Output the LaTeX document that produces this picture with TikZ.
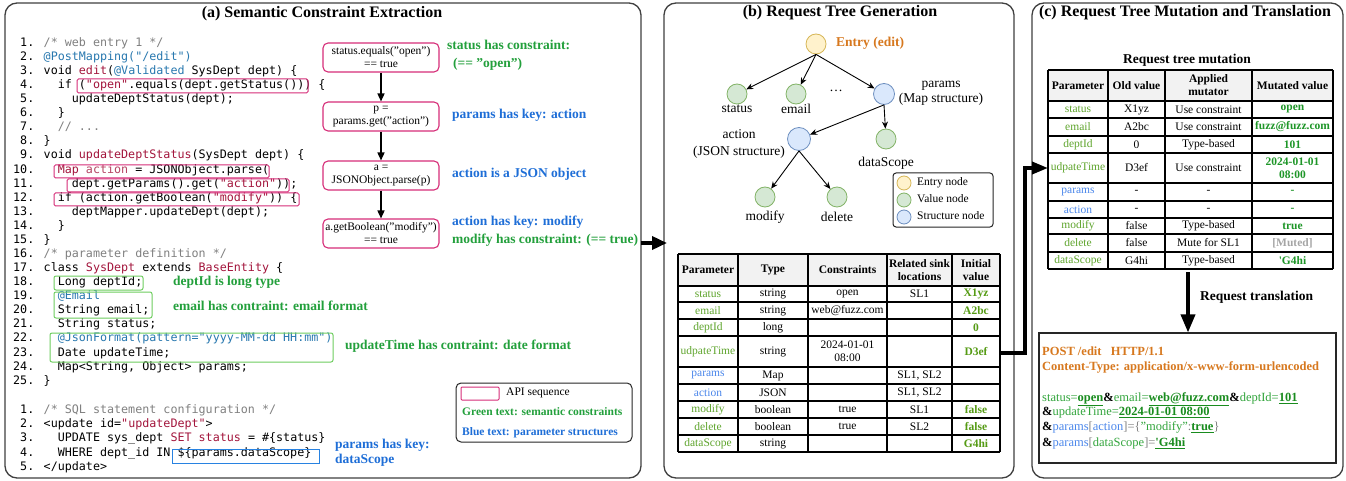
\documentclass[tikz,border=0pt]{standalone}
\usepackage{fontspec}
\setmainfont{Liberation Serif}
\newfontfamily\codefont{DejaVu Sans Mono}
\usetikzlibrary{arrows.meta}
\definecolor{cred}{RGB}{163,21,60}
\definecolor{cblue}{RGB}{40,120,175}
\definecolor{cgray}{RGB}{128,128,128}
\definecolor{apink}{RGB}{214,45,120}
\definecolor{bxgreen}{RGB}{110,205,95}
\definecolor{bxblue}{RGB}{40,130,225}
\definecolor{agreen}{RGB}{35,160,60}
\definecolor{ablue}{RGB}{30,110,215}
\definecolor{pgreen}{RGB}{95,165,45}
\definecolor{pblue}{RGB}{75,135,235}
\definecolor{ivgreen}{RGB}{85,155,20}
\definecolor{mvgreen}{RGB}{30,150,40}
\definecolor{mgray}{RGB}{165,165,165}
\definecolor{eorange}{RGB}{215,120,30}
\definecolor{entryfill}{RGB}{255,242,204}
\definecolor{entrydraw}{RGB}{214,182,86}
\definecolor{valfill}{RGB}{213,232,212}
\definecolor{valdraw}{RGB}{130,179,102}
\definecolor{strfill}{RGB}{218,232,252}
\definecolor{strdraw}{RGB}{108,142,191}
\definecolor{hdrgray}{RGB}{242,242,242}
\definecolor{rgreen}{RGB}{50,165,60}
\definecolor{ugreen}{RGB}{25,140,30}
\newcommand\uv[1]{\textcolor{ugreen}{\bfseries\underline{#1}}}
\newcommand\amp{\textbf{\&}}
\begin{document}
\begin{tikzpicture}[x=1pt,y=-1pt,
  panel/.style={draw=black!75, line width=1.3pt, rounded corners=12pt, inner sep=0pt},
  ptitle/.style={font=\bfseries\fontsize{16}{18}\selectfont, inner sep=0pt},
  code/.style={anchor=mid west, inner sep=0pt, font=\codefont\fontsize{11.7}{14}\selectfont},
  hlbox/.style={draw=apink, line width=1pt, rounded corners=1.5pt},
  gbox/.style={draw=bxgreen, line width=1pt, rounded corners=2pt},
  bbox/.style={draw=bxblue, line width=1pt},
  api/.style={draw=apink, line width=1.1pt, rounded corners=5pt, minimum width=116pt, minimum height=29pt, align=center, inner sep=0pt, font=\fontsize{11.5}{13}\selectfont},
  apiarr/.style={-{Triangle[length=8pt,width=7pt]}, line width=1.5pt},
  ann/.style={anchor=mid west, inner sep=0pt, font=\bfseries\fontsize{13.5}{15}\selectfont},
  bigarr/.style={-{Triangle[length=15pt,width=13pt]}, line width=3.5pt},
  tnode/.style={circle, minimum size=20pt, inner sep=0pt, line width=0.8pt},
  entry/.style={tnode, fill=entryfill, draw=entrydraw},
  val/.style={tnode, fill=valfill, draw=valdraw},
  strn/.style={tnode, fill=strfill, draw=strdraw},
  tlab/.style={inner sep=0pt, font=\fontsize{13.5}{15.5}\selectfont, align=center},
  tarr/.style={-{Stealth[length=7pt,width=6pt]}, line width=0.9pt},
  tline/.style={line width=1.1pt},
  cell/.style={inner sep=0pt, align=center, font=\fontsize{11.5}{13}\selectfont},
  hcell/.style={cell, font=\bfseries\fontsize{11.5}{13}\selectfont},
  leg/.style={anchor=mid west, inner sep=0pt, font=\fontsize{11.5}{13}\selectfont},
  req/.style={anchor=mid west, inner sep=0pt, font=\fontsize{12.5}{14}\selectfont}
]
\useasboundingbox (0,0) rectangle (1346,481);
\fill[white] (0,0) rectangle (1346,481);

% ---------------- panels
\node[panel, minimum width=636pt, minimum height=475pt] (pa) at (323,240.5) {};
\node[panel, minimum width=350pt, minimum height=475pt] (pb) at (839,240.5) {};
\node[panel, minimum width=311pt, minimum height=475pt] (pc) at (1187.5,240.5) {};
\node[ptitle] (ta) at (322,14) {(a) Semantic Constraint Extraction};
\node[ptitle] (tb) at (840,13) {(b) Request Tree Generation};
\node[ptitle] (tc) at (1185,13) {(c) Request Tree Mutation and Translation};

% ---------------- panel (a): code
\node[code] (c1) at (13,44) {\ 1. \textcolor{cgray}{/* web entry 1 */}};
\node[code] (c2) at (13,58.08) {\ 2. \textcolor{cblue}{@PostMapping("/edit")}};
\node[code] (c3) at (13,72.16) {\ 3. void \textcolor{cred}{edit}(\textcolor{cblue}{@Validated} SysDept dept) \{};
\node[code] (c4) at (13,86.24) {\ 4. \ \ if (\textcolor{cred}{"open"}.equals(dept.getStatus())) \{};
\node[code] (c5) at (13,100.32) {\ 5. \ \ \ \ updateDeptStatus(dept);};
\node[code] (c6) at (13,114.4) {\ 6. \ \ \}};
\node[code] (c7) at (13,128.48) {\ 7. \ \ \textcolor{cgray}{// ...}};
\node[code] (c8) at (13,142.56) {\ 8. \}};
\node[code] (c9) at (13,156.64) {\ 9. void \textcolor{cred}{updateDeptStatus}(SysDept dept) \{};
\node[code] (c10) at (13,170.72) {10. \ \ \textcolor{cred}{Map} \textcolor{cred!80}{action} = JSONObject.parse(};
\node[code] (c11) at (13,184.8) {11. \ \ \ \ dept.getParams().get(\textcolor{cred}{"action"}));};
\node[code] (c12) at (13,198.88) {12. \ \ if (action.getBoolean(\textcolor{cred}{"modify"})) \{};
\node[code] (c13) at (13,212.96) {13. \ \ \ \ deptMapper.updateDept(dept);};
\node[code] (c14) at (13,227.04) {14. \ \ \}};
\node[code] (c15) at (13,241.12) {15. \}};
\node[code] (c16) at (13,255.2) {16. \textcolor{cgray}{/* parameter definition */}};
\node[code] (c17) at (13,269.28) {17. class \textcolor{cred}{SysDept} extends \textcolor{cred}{BaseEntity} \{};
\node[code] (c18) at (13,283.36) {18. \ \ Long deptId;};
\node[code] (c19) at (13,297.44) {19. \ \ \textcolor{cblue}{@Email}};
\node[code] (c20) at (13,311.52) {20. \ \ String email;};
\node[code] (c21) at (13,325.6) {21. \ \ String status;};
\node[code] (c22) at (13,339.68) {22. \ \ \textcolor{cblue}{@JsonFormat(pattern="yyyy-MM-dd HH:mm")}};
\node[code] (c23) at (13,353.76) {23. \ \ Date updateTime;};
\node[code] (c24) at (13,367.84) {24. \ \ Map<String, Object> params;};
\node[code] (c25) at (13,381.92) {25. \}};

\node[code] (s1) at (13,411) {\ 1. \textcolor{cgray}{/* SQL statement configuration */}};
\node[code] (s2) at (13,425.25) {\ 2. <update id=\textcolor{cred}{"updateDept"}>};
\node[code] (s3) at (13,439.5) {\ 3. \ \ UPDATE sys\_dept \textcolor{cred}{SET status} = \#\{status\}};
\node[code] (s4) at (13,453.75) {\ 4. \ \ WHERE dept\_id IN \$\{params.dataScope\}};
\node[code] (s5) at (13,468) {\ 5. </update>};

% highlight boxes
\draw[hlbox] (77,79) rectangle (308,93);
\draw[hlbox] (54,165) rectangle (269,178);
\draw[hlbox] (67,179) rectangle (289,192);
\draw[hlbox] (54,193) rectangle (299,206);
\draw[gbox] (54,276) rectangle (143,290);
\draw[gbox] (54,292) rectangle (152,318);
\draw[gbox] (50,333) rectangle (333,362);
\draw[bbox] (172,449) rectangle (319,463);

% annotations next to code
\node[ann, text=agreen] (n18) at (173,283) {deptId is long type};
\node[ann, text=agreen] (n20) at (173,308) {email has contraint: email format};
\node[ann, text=agreen] (n22) at (345,347) {updateTime has contraint: date format};
\node[ann, text=ablue, align=left, anchor=west] (ns4) at (335,453) {params has key:\\dataScope};

% API sequence
\node[api] (a1) at (381,57.5) {status.equals("open")\\== true};
\node[api] (a2) at (381,116.5) {p =\\params.get("action")};
\node[api] (a3) at (381,175.5) {a =\\JSONObject.parse(p)};
\node[api] (a4) at (381,233.5) {a.getBoolean("modify")\\== true};
\draw[apiarr] (a1) -- (a2);
\draw[apiarr] (a2) -- (a3);
\draw[apiarr] (a3) -- (a4);
\node[ann, text=agreen] (k1) at (447,47) {status has constraint:};
\node[ann, text=agreen] (k1b) at (453,65) {(== "open")};
\node[ann, text=ablue] (k2) at (452,116) {params has key: action};
\node[ann, text=ablue] (k3) at (452,175) {action is a JSON object};
\node[ann, text=ablue] (k4) at (452,223) {action has key: modify};
\node[ann, text=agreen] (k4b) at (452,241) {modify has constraint: (== true)};

% legend (a)
\node[draw=black!85, line width=1pt, rounded corners=5pt, minimum width=176pt, minimum height=59pt, inner sep=0pt] (lega) at (544,412.5) {};
\node[draw=apink, line width=1pt, rounded corners=1pt, minimum width=38pt, minimum height=13pt, inner sep=0pt] (lgbox) at (480,393.5) {};
\node[leg] (lg1) at (506,393) {API sequence};
\node[leg, text=agreen, font=\bfseries\fontsize{11.5}{13}\selectfont] (lg2) at (462,413) {Green text: semantic constraints};
\node[leg, text=ablue, font=\bfseries\fontsize{11.5}{13}\selectfont] (lg3) at (462,433) {Blue text: parameter structures};

% arrow a -> b
\coordinate (aout) at (641,243);
\coordinate (bin) at (667,243);
\draw[bigarr] (aout) -- (bin);

% ---------------- panel (b): tree
\node[entry] (en) at (816,44) {};
\node[val] (st) at (737,94) {};
\node[val] (em) at (796,94) {};
\node[strn, minimum size=21pt] (pr) at (884,94) {};
\node[strn, minimum size=23pt] (ac) at (799,139) {};
\node[val] (ds) at (886,139) {};
\node[val] (mo) at (765,197) {};
\node[val] (de) at (837,197) {};
\node[inner sep=0pt, anchor=mid west, text=eorange, font=\bfseries\fontsize{13.5}{15}\selectfont] (enl) at (836,44) {Entry (edit)};
\node[tlab] (stl) at (737,109) {status};
\node[tlab] (eml) at (796,109) {email};
\node[tlab] (dots) at (836,91) {\dots};
\node[tlab] (prl) at (941,93.5) {params\\(Map structure)};
\node[tlab, font=\fontsize{13.5}{17}\selectfont] (acl) at (739,143.5) {action\\(JSON structure)};
\node[tlab] (dsl) at (886,163) {dataScope};
\node[tlab] (mol) at (765,217) {modify};
\node[tlab] (del) at (837,217) {delete};
\draw[tarr] (en.south) -- (st);
\draw[tarr] (en.south) -- (em);
\draw[tarr] (en.south) -- (pr);
\draw[tarr] (pr.south) -- (ac);
\draw[tarr] (pr.south) -- (ds);
\draw[tarr] (ac.south) -- (mo);
\draw[tarr] (ac.south) -- (de);

% legend (b)
\node[draw=black!85, line width=1pt, rounded corners=3pt, minimum width=100pt, minimum height=54pt, inner sep=0pt] (legb) at (943,200) {};
\node[entry, minimum size=14pt] (lgc1) at (904,183) {};
\node[val, minimum size=14pt] (lgc2) at (904,200) {};
\node[strn, minimum size=14pt] (lgc3) at (904,217) {};
\node[leg] (lgt1) at (917,183) {Entry node};
\node[leg] (lgt2) at (917,200) {Value node};
\node[leg] (lgt3) at (917,217) {Structure node};

% table (b)
\fill[hdrgray] (678,254) rectangle (1000,286);
\foreach \x in {678,738,808,887,952,1000} \draw[tline] (\x,254) -- (\x,452);
\foreach \y in {254,286,302,319,336,367,384,401,418,435,452} \draw[tline] (678,\y) -- (1000,\y);
\node[hcell] (bh1) at (708,270) {Parameter};
\node[hcell] (bh2) at (773,270) {Type};
\node[hcell] (bh3) at (847.5,270) {Constraints};
\node[hcell] (bh4) at (919.5,270) {Related sink\\locations};
\node[hcell] (bh5) at (976,270) {Initial\\value};
\foreach \yc/\pc/\p/\t/\c/\s/\v [count=\i] in {
  294/pgreen/status/string/open/SL1/X1yz,
  310.5/pgreen/email/string/web@fuzz.com/{}/A2bc,
  327.5/pgreen/deptId/long/{}/{}/0,
  351.5/pgreen/udpateTime/string/{2024-01-01\\08:00}/{}/D3ef,
  375.5/pblue/params/Map/{}/{SL1, SL2}/{},
  392.5/pblue/action/JSON/{}/{SL1, SL2}/{},
  409.5/pgreen/modify/boolean/true/SL1/false,
  426.5/pgreen/delete/boolean/true/SL2/false,
  443.5/pgreen/dataScope/string/{}/{}/G4hi}{
  \node[cell, text=\pc] (tb-\i-1) at (708,\yc) {\p};
  \node[cell] (tb-\i-2) at (773,\yc) {\t};
  \node[cell] (tb-\i-3) at (847.5,\yc) {\c};
  \node[cell] (tb-\i-4) at (919.5,\yc) {\s};
  \node[cell, text=ivgreen, font=\bfseries\fontsize{11.5}{13}\selectfont] (tb-\i-5) at (976,\yc) {\v};
}

% arrow b -> c
\coordinate (bout) at (1001,353);
\coordinate (cin) at (1048,168);
\draw[bigarr, -{Triangle[length=16pt,width=12pt]}] (bout) -- (1025,353) -- (1025,168) -- (cin);

% ---------------- panel (c)
\node[inner sep=0pt, font=\bfseries\fontsize{13.5}{15}\selectfont] (mt) at (1187,60) {Request tree mutation};
\fill[hdrgray] (1048,70) rectangle (1333,101);
\foreach \x in {1048,1108,1165,1252,1333} \draw[tline] (\x,70) -- (\x,269);
\foreach \y in {70,101,118,136,153,183,201,218,234,252,269} \draw[tline] (1048,\y) -- (1333,\y);
\node[hcell] (ch1) at (1078,85.5) {Parameter};
\node[hcell] (ch2) at (1136.5,85.5) {Old value};
\node[hcell] (ch3) at (1208.5,85.5) {Applied\\mutator};
\node[hcell] (ch4) at (1292.5,85.5) {Mutated value};
\foreach \yc/\pc/\p/\o/\m/\mc/\v [count=\i] in {
  109.5/pgreen/status/X1yz/Use constraint/mvgreen/open,
  127/pgreen/email/A2bc/Use constraint/mvgreen/fuzz@fuzz.com,
  144.5/pgreen/deptId/0/Type-based/mvgreen/101,
  168/pgreen/udpateTime/D3ef/Use constraint/mvgreen/{2024-01-01\\08:00},
  192/pblue/params/-/-/mvgreen/-,
  209.5/pblue/action/-/-/mvgreen/-,
  226/pgreen/modify/false/Type-based/mvgreen/true,
  243/pgreen/delete/false/Mute for SL1/mgray/[Muted],
  260.5/pgreen/dataScope/G4hi/Type-based/mvgreen/\textquotesingle G4hi}{
  \node[cell, text=\pc] (tc-\i-1) at (1078,\yc) {\p};
  \node[cell] (tc-\i-2) at (1136.5,\yc) {\o};
  \node[cell] (tc-\i-3) at (1208.5,\yc) {\m};
  \node[cell, text=\mc, font=\bfseries\fontsize{11.5}{13}\selectfont] (tc-\i-4) at (1292.5,\yc) {\v};
}

% translation arrow
\coordinate (tout) at (1188,272);
\node[draw=black!85, line width=1.1pt, minimum width=297pt, minimum height=130pt, inner sep=0pt] (rq) at (1187.5,398) {};
\draw[bigarr, -{Triangle[length=18pt,width=14pt]}] (tout) -- (rq.north -| tout);
\node[inner sep=0pt, anchor=mid west, font=\bfseries\fontsize{13.5}{15}\selectfont] (rtl) at (1200,298) {Request translation};

\node[req, text=eorange, font=\bfseries\fontsize{12.5}{14}\selectfont] (r1) at (1042,353) {POST /edit\ \ \ HTTP/1.1};
\node[req, text=eorange, font=\bfseries\fontsize{12.5}{14}\selectfont] (r2) at (1042,368) {Content-Type: application/x-www-form-urlencoded};
\node[req] (r3) at (1042,399) {\textcolor{rgreen}{status=}\uv{open}\amp\textcolor{rgreen}{email=}\uv{web@fuzz.com}\amp\textcolor{rgreen}{deptId=}\uv{101}};
\node[req] (r4) at (1042,413) {\amp\textcolor{rgreen}{updateTime=}\uv{2024-01-01 08:00}};
\node[req] (r5) at (1042,428) {\amp\textcolor{pblue}{params}\textcolor{gray}{[}\textcolor{pblue}{action}\textcolor{gray}{]=\{}\textcolor{rgreen}{"modify"}\textcolor{gray}{:}\uv{true}\textcolor{gray}{\}}};
\node[req] (r6) at (1042,444) {\amp\textcolor{pblue}{params}\textcolor{gray}{[}\textcolor{rgreen}{dataScope}\textcolor{gray}{]=}\uv{\textquotesingle G4hi}};
\end{tikzpicture}
\end{document}
